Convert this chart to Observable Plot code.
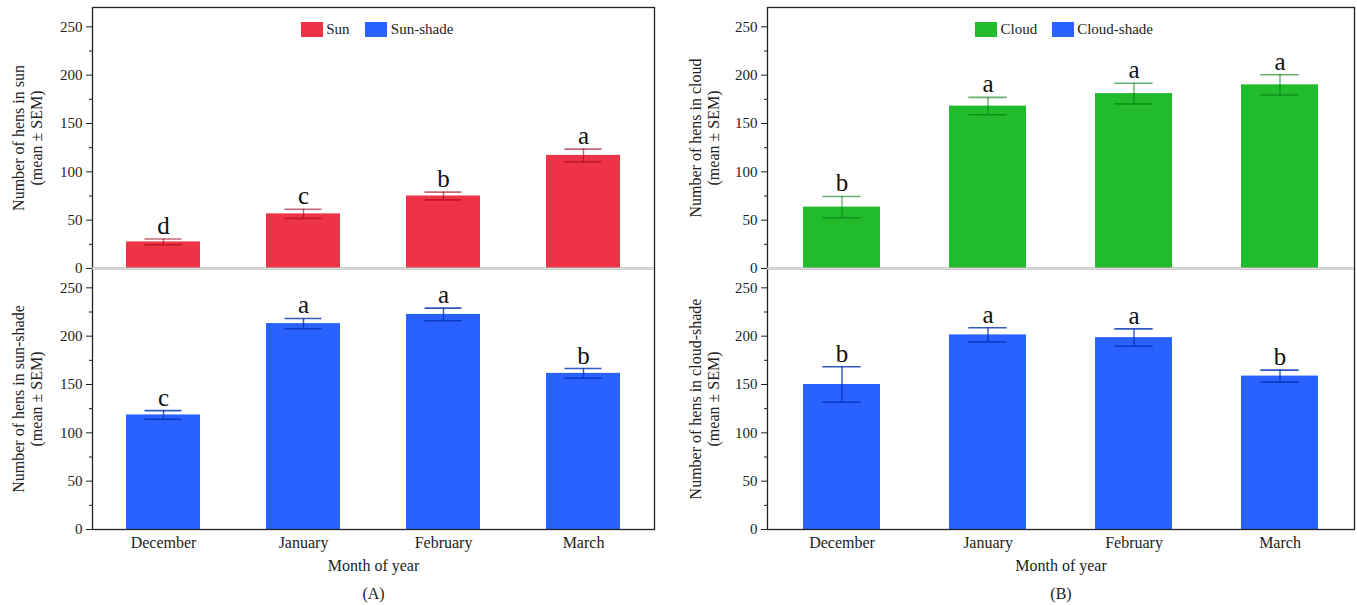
<!DOCTYPE html>
<html><head><meta charset="utf-8">
<script src="https://cdn.jsdelivr.net/npm/d3@7"></script>
<script src="https://cdn.jsdelivr.net/npm/@observablehq/plot@0.6"></script>
<style>
body{margin:0;background:#fff;}
#root{position:relative;width:1357px;height:605px;font-family:"Liberation Serif","Times New Roman",serif;color:#222;overflow:hidden;}
#root svg{position:absolute;}
#root svg text{font-family:"Liberation Serif","Times New Roman",serif !important;font-variant:normal !important;}
.sw{position:absolute;width:22px;height:14.5px;}
.lt{position:absolute;font-size:15px;line-height:15px;white-space:nowrap;color:#222;}
</style></head><body><div id="root"></div>
<script>
const months = ["December", "January", "February", "March"];
const sunMean = [27.5, 56.5, 75, 117];
const sunSem = [3, 4.8, 4, 6.5];
const sunLetters = ["d", "c", "b", "a"];
const sunShadeMean = [118.5, 213, 222.5, 161.5];
const sunShadeSem = [4.5, 5.3, 6.5, 5];
const sunShadeLetters = ["c", "a", "a", "b"];
const cloudMean = [63.5, 168, 181, 190];
const cloudSem = [11, 9, 10.7, 10.5];
const cloudLetters = ["b", "a", "a", "a"];
const cloudShadeMean = [150, 201.3, 198.5, 158.7];
const cloudShadeSem = [18.3, 7.4, 9, 6.2];
const cloudShadeLetters = ["b", "a", "a", "b"];
const yTicks = [0, 50, 100, 150, 200, 250];
const yMinor = [25, 75, 125, 175, 225];
const yDomain = [0, 270];

const RED = "#EE3346", BLUE = "#2962FF", GREEN = "#22BB2E";
const FONT = "'Liberation Serif', 'Times New Roman', serif";

const root = document.getElementById("root");

function table(mean, sem, letters) {
  return months.map((m, i) => ({month: m, mean: mean[i], lo: mean[i] - sem[i], hi: mean[i] + sem[i], letter: letters[i]}));
}

function panel(o) {
  const data = table(o.mean, o.sem, o.letters);
  const bottom = o.bottom;
  const marks = [
    Plot.barY(data, {x: "month", y: "mean", fill: o.fill}),
    Plot.ruleX(data, {x: "month", y1: "lo", y2: "hi", stroke: o.err, strokeOpacity: o.errOp, strokeWidth: 1.4}),
    Plot.tickY(data, {x: "month", y: "hi", stroke: o.err, strokeOpacity: o.errOp, strokeWidth: 1.6, insetLeft: o.capInset, insetRight: o.capInset}),
    Plot.tickY(data, {x: "month", y: "lo", stroke: o.err, strokeOpacity: o.errOp, strokeWidth: 1.6, insetLeft: o.capInset, insetRight: o.capInset}),
    Plot.text(data, {x: "month", y: "hi", text: "letter", dy: -5, lineAnchor: "bottom", fontSize: 25, fontFamily: FONT, fill: "#111"}),
    Plot.axisY(yTicks, {tickSize: 6, tickPadding: 4, fontSize: 15, fontFamily: FONT, label: null}),
    Plot.axisY(yMinor, {tickSize: 3, tickFormat: () => "", label: null}),
    Plot.text([o.ylabel], {text: d => d, frameAnchor: "left", textAnchor: "middle", rotate: -90, dx: o.ylabDx, lineAnchor: "middle", lineHeight: 1.1, fontSize: 16, fontFamily: FONT, fill: "#222"}),
    Plot.frame({stroke: "#222", strokeWidth: 1.3})
  ];
  if (bottom) {
    marks.push(Plot.ruleY([yDomain[1]], {stroke: "#dcdcdc", strokeWidth: 2.2}));
    marks.push(Plot.axisX({tickSize: 0, tickPadding: 7, fontSize: 16, fontFamily: FONT, label: null}));
    marks.push(Plot.text(["Month of year"], {text: d => d, frameAnchor: "bottom", textAnchor: "middle", dy: 41.5, lineAnchor: "bottom", fontSize: 16, fontFamily: FONT, fill: "#222"}));
    marks.push(Plot.text([o.tag], {text: d => d, frameAnchor: "bottom", textAnchor: "middle", dy: 69, lineAnchor: "bottom", fontSize: 16, fontFamily: FONT, fill: "#222"}));
  }
  const svg = Plot.plot({
    width: o.width,
    height: bottom ? 337 : 268,
    marginTop: bottom ? 0 : 7,
    marginBottom: bottom ? 76 : 0,
    marginLeft: o.marginLeft,
    marginRight: o.marginRight,
    style: {fontFamily: FONT, color: "#222", background: "transparent", overflow: "visible"},
    x: {domain: months, paddingInner: o.pi, paddingOuter: o.pi / 2, axis: bottom ? undefined : null},
    y: {domain: yDomain},
    marks
  });
  svg.style.left = o.left + "px";
  svg.style.top = (bottom ? 268 : 0) + "px";
  root.appendChild(svg);
}

const L = {width: 680, left: 0, marginLeft: 92, marginRight: 26, pi: 0.47, capInset: 18.5, ylabDx: -65, tag: "(A)"};
const R = {width: 677, left: 680, marginLeft: 87, marginRight: 3, pi: 0.475, capInset: 19.3, ylabDx: -63, tag: "(B)"};

panel({...L, bottom: false, mean: sunMean, sem: sunSem, letters: sunLetters, fill: RED, err: "#A0001A", errOp: 0.6, ylabel: "Number of hens in sun\n(mean ± SEM)"});
panel({...L, bottom: true, mean: sunShadeMean, sem: sunShadeSem, letters: sunShadeLetters, fill: BLUE, err: "#0030B0", errOp: 0.8, ylabel: "Number of hens in sun-shade\n(mean ± SEM)"});
panel({...R, bottom: false, mean: cloudMean, sem: cloudSem, letters: cloudLetters, fill: GREEN, err: "#007A10", errOp: 0.6, ylabel: "Number of hens in cloud\n(mean ± SEM)"});
panel({...R, bottom: true, mean: cloudShadeMean, sem: cloudShadeSem, letters: cloudShadeLetters, fill: BLUE, err: "#0030B0", errOp: 0.8, ylabel: "Number of hens in cloud-shade\n(mean ± SEM)"});

// legends
const legends = [
  {items: [["Sun", RED], ["Sun-shade", BLUE]], x: [300.7, 365.3]},
  {items: [["Cloud", GREEN], ["Cloud-shade", BLUE]], x: [975, 1051.7]}
];
for (const lg of legends) {
  lg.items.forEach(([name, color], i) => {
    const sw = document.createElement("div");
    sw.className = "sw";
    sw.style.left = lg.x[i] + "px";
    sw.style.top = "22.3px";
    sw.style.background = color;
    root.appendChild(sw);
    const t = document.createElement("div");
    t.className = "lt";
    t.style.left = (lg.x[i] + 25.5) + "px";
    t.style.top = "21.7px";
    t.textContent = name;
    root.appendChild(t);
  });
}
</script></body></html>
